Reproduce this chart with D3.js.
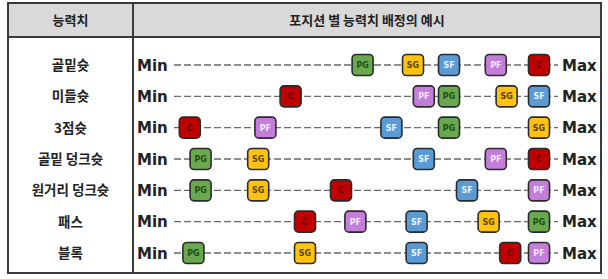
<!DOCTYPE html>
<html>
<head>
<meta charset="utf-8">
<title>포지션 별 능력치 배정의 예시</title>
<style>
body { margin: 0; background: #fff; }
</style>
<script type="text/javascript" src="https://d3js.org/d3.v7.min.js"></script>
</head>
<body>
<svg id="chart" width="608" height="279"></svg>
<script type="text/javascript">
// skill rows, top to bottom
const skills = ["골밑슛", "미들슛", "3점슛", "골밑 덩크슛", "원거리 덩크슛", "패스", "블록"];
const positions = ["PG", "SG", "SF", "PF", "C"];
// where each position sits on the Min..Max line (0 = Min, 100 = Max), one array per position
const pgVals = [51, 75, 75, 6, 6, 100, 4];
const sgVals = [65, 91, 100, 22, 22, 86, 35];
const sfVals = [75, 100, 59, 68, 80, 66, 66];
const pfVals = [88, 68, 24, 88, 100, 49, 100];
const cVals  = [100, 31, 3, 100, 45, 35, 92];
const headers = ["능력치", "포지션 별 능력치 배정의 예시"];

const svg = d3.select("#chart");
const LEFT = 8, RIGHT = 601, TOP = 3, BOTTOM = 273, HEAD = 37, DIV = 133;
const KR = "'Noto Sans CJK KR', 'Noto Sans', sans-serif";

const fills = { PG: "#6aa84f", SG: "#ffc20e", SF: "#5b9bd5", PF: "#c27ed8", C: "#c00000" };
const inks  = { PG: "#1f4d12", SG: "#5a4300", SF: "#e8f2ff", PF: "#f6e6ff", C: "#5a0000" };

const data = positions.map((p, i) => ({ pos: p, vals: [pgVals, sgVals, sfVals, pfVals, cVals][i] }));

const x = d3.scaleLinear().domain([0, 100]).range([179, 539]);
const y = d3.scalePoint().domain(skills).range([65, 253]);

// header band
svg.append("rect").attr("x", LEFT).attr("y", TOP).attr("width", RIGHT - LEFT).attr("height", HEAD - TOP)
   .style("fill", "#d9d9d9");

svg.append("text").attr("x", (LEFT + DIV) / 2).attr("y", 25).attr("text-anchor", "middle")
   .style("font-family", KR).style("font-weight", "bold").style("font-size", "13px").style("fill", "#222")
   .text(headers[0]);
svg.append("text").attr("x", (DIV + RIGHT) / 2).attr("y", 25).attr("text-anchor", "middle")
   .style("font-family", KR).style("font-weight", "bold").style("font-size", "13px").style("fill", "#222")
   .text(headers[1]);

// table lines
svg.append("rect").attr("x", LEFT).attr("y", TOP).attr("width", RIGHT - LEFT).attr("height", BOTTOM - TOP)
   .style("fill", "none").style("stroke", "#3a3a3a").style("stroke-width", 2);
svg.append("line").attr("x1", LEFT).attr("x2", RIGHT).attr("y1", HEAD).attr("y2", HEAD)
   .style("stroke", "#3a3a3a").style("stroke-width", 2);
svg.append("line").attr("x1", DIV).attr("x2", DIV).attr("y1", TOP).attr("y2", BOTTOM)
   .style("stroke", "#3a3a3a").style("stroke-width", 2);

// row labels
svg.selectAll(".skill").data(skills).enter().append("text")
   .attr("x", (LEFT + DIV) / 2).attr("y", d => y(d) + 5).attr("text-anchor", "middle")
   .style("font-family", KR).style("font-weight", "bold").style("font-size", "13.5px").style("fill", "#222")
   .text(d => d);

// min / max lines
const rows = svg.selectAll(".row").data(skills).enter().append("g")
   .attr("transform", d => `translate(0, ${y(d)})`);

rows.append("line").attr("x1", 174).attr("x2", 558).attr("y1", 0).attr("y2", 0)
   .style("stroke", "#6a6a6a").style("stroke-width", 1.4).style("stroke-dasharray", "7,3");

rows.append("text").attr("x", 137).attr("y", 5.5)
   .style("font-family", "'DejaVu Sans', sans-serif").style("font-weight", "bold").style("font-size", "15px")
   .style("fill", "#222").text("Min");
rows.append("text").attr("x", 562).attr("y", 5.5)
   .style("font-family", "'DejaVu Sans', sans-serif").style("font-weight", "bold").style("font-size", "15px")
   .style("fill", "#222").text("Max");

// position boxes
const marks = [];
data.forEach(s => s.vals.forEach((v, i) => marks.push({ pos: s.pos, skill: skills[i], v: v })));

const boxes = svg.selectAll(".box").data(marks).enter().append("g")
   .attr("transform", d => `translate(${x(d.v)}, ${y(d.skill)})`);

boxes.append("rect").attr("x", -10.5).attr("y", -10.5).attr("width", 21).attr("height", 21)
   .attr("rx", 4).attr("ry", 4)
   .style("fill", d => fills[d.pos]).style("stroke", "#2b2b2b").style("stroke-width", 1.6);

boxes.append("text").attr("x", 0).attr("y", 3).attr("text-anchor", "middle")
   .style("font-family", "'DejaVu Sans', sans-serif").style("font-weight", "bold").style("font-size", "8px")
   .style("fill", d => inks[d.pos]).text(d => d.pos);
</script>
</body>
</html>
